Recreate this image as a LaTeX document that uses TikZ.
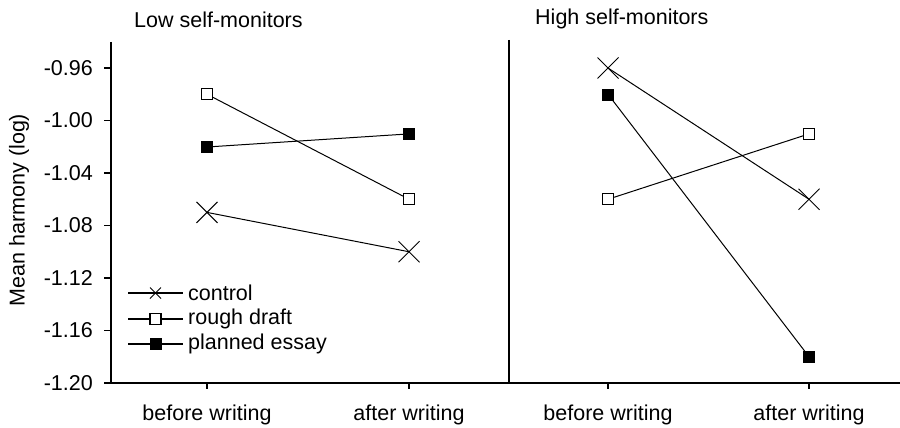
\documentclass[tikz,border=0pt]{standalone}
\usepackage{fontspec}
\setmainfont{Liberation Sans}
\usetikzlibrary{shapes.misc}

\begin{document}
\begin{tikzpicture}[x=1pt,y=-1pt,
  every node/.style={inner sep=0pt,font=\fontsize{21.5}{25}\selectfont},
  axis/.style={black,line width=1.6pt},
  series/.style={black,line width=1pt},
  ctrl/.style={draw,cross out,line width=1pt,minimum size=20pt},
  rough/.style={draw,fill=white,line width=1.2pt,minimum size=11pt},
  planned/.style={draw,fill=black,minimum size=11pt},
  legctrl/.style={draw,cross out,line width=1pt,minimum size=10pt}]
\useasboundingbox (0,0) rectangle (900,428);
% axes
\coordinate (o) at (111,383);
\coordinate (ytop) at (111,42);
\coordinate (xend) at (900,383);
\coordinate (divtop) at (509,40);
\coordinate (divbot) at (509,383);
\draw [axis] (ytop) -- (o) -- (xend);
\draw [axis] (divtop) -- (divbot);
\foreach \i/\lab in {0/-0.96,1/-1.00,2/-1.04,3/-1.08,4/-1.12,5/-1.16,6/-1.20}{
  \draw [axis] (104,68+52.5*\i) -- (111,68+52.5*\i);
  \node [anchor=east] (ylab\i) at (93,68+52.5*\i) {\lab};
}
\foreach \x/\lab in {207/before writing,409/after writing,608/before writing,809/after writing}{
  \draw [axis] (\x,383) -- (\x,389);
  \node (xlab\x) at (\x,415) {\lab};
}
\node [rotate=90] (ytitle) at (19,210) {Mean harmony (log)};
\node [anchor=west] (lowtitle) at (134,20) {Low self-monitors};
\node [anchor=west] (hightitle) at (535,19) {High self-monitors};
% low self-monitors
\node [rough] (lrb) at (207,94.25) {};
\node [rough] (lra) at (409,199.25) {};
\node [planned] (lpb) at (207,147) {};
\node [planned] (lpa) at (409,133.9) {};
\node [ctrl] (lcb) at (207,212.4) {};
\node [ctrl] (lca) at (409,251.75) {};
\draw [series] (lrb) -- (lra);
\draw [series] (lpb) -- (lpa);
\draw [series] (lcb.center) -- (lca.center);
% high self-monitors
\node [ctrl] (hcb) at (608,68) {};
\node [ctrl] (hca) at (809,199.25) {};
\node [planned] (hpb) at (608,94.25) {};
\node [planned] (hpa) at (809,356.75) {};
\node [rough] (hrb) at (608,199.25) {};
\node [rough] (hra) at (809,133.9) {};
\draw [series] (hcb.center) -- (hca.center);
\draw [series] (hpb) -- (hpa);
\draw [series] (hrb) -- (hra);
% legend
\coordinate (l1a) at (128,293);
\coordinate (l1b) at (183,293);
\coordinate (l2a) at (128,319);
\coordinate (l2b) at (183,319);
\coordinate (l3a) at (128,344);
\coordinate (l3b) at (183,344);
\draw [series,line width=1.4pt] (l1a) -- (l1b);
\draw [series,line width=1.4pt] (l2a) -- (l2b);
\draw [series,line width=1.4pt] (l3a) -- (l3b);
\node [legctrl] (m1) at (155.5,293) {};
\node [rough] (m2) at (155.5,319) {};
\node [planned] (m3) at (155.5,344) {};
\node [anchor=west] (t1) at (188,293) {control};
\node [anchor=west] (t2) at (188,319) {rough draft};
\node [anchor=west] (t3) at (188,344) {planned essay};
\end{tikzpicture}
\end{document}
